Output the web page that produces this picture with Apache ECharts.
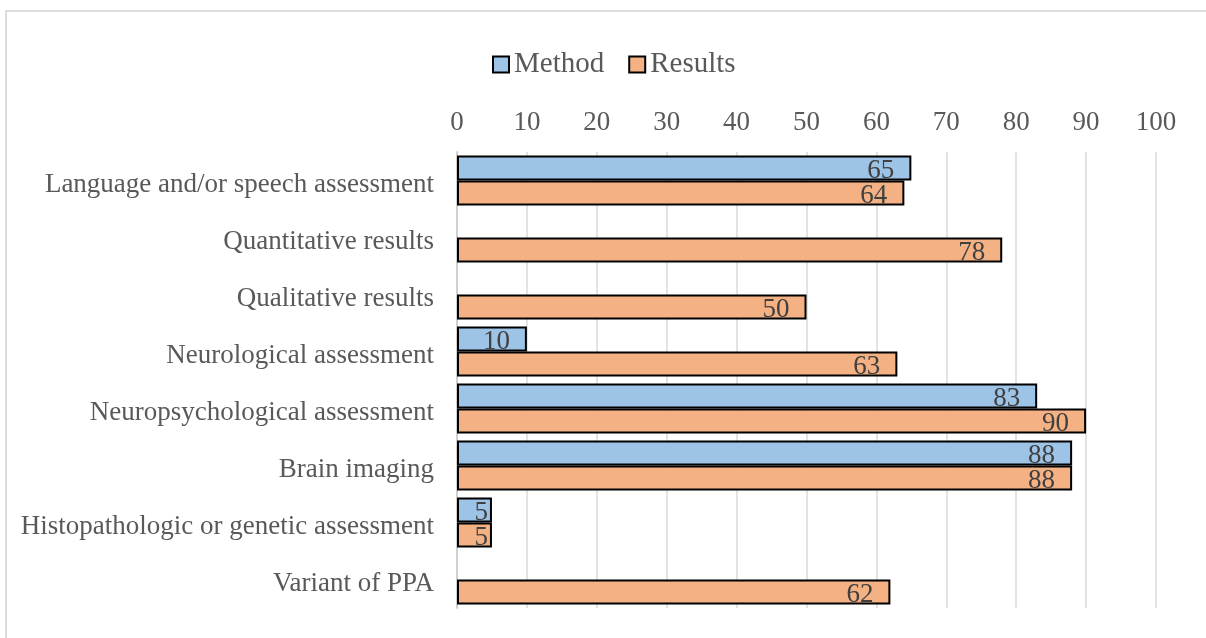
<!DOCTYPE html>
<html>
<head>
<meta charset="utf-8">
<script src="https://cdn.jsdelivr.net/npm/echarts@6/dist/echarts.min.js"></script>
<style>
	html, body { margin: 0; padding: 0; background: #fff; }
	#frame { position: absolute; left: 5px; top: 10px; width: 1220px; height: 650px; border: 2px solid #dcdcdc; box-sizing: border-box; }
	#main { position: absolute; left: 0; top: 0; width: 1206px; height: 638px; }
</style>
</head>
<body>
<div id="frame"></div>
<div id="main"></div>
<script>
var categories = [
	'Language and/or speech assessment',
	'Quantitative results',
	'Qualitative results',
	'Neurological assessment',
	'Neuropsychological assessment',
	'Brain imaging',
	'Histopathologic or genetic assessment',
	'Variant of PPA'
];
var methodValues = [65, null, null, 10, 83, 88, 5, null];
var resultsValues = [64, 78, 50, 63, 90, 88, 5, 62];
var seriesNames = ['Method', 'Results'];

var fontFamily = '"Liberation Serif", "Times New Roman", serif';

// label style shared by both series
function barLabel() {
	return {
		show : true,
		position : 'insideRight',
		distance : 17,
		offset : [0, 3],
		fontSize : 27,
		color : '#404040',
		fontFamily : fontFamily
	};
}

// very short bars keep their label close to the bar end
function barData(values) {
	return values.map(function(v) {
		if (v !== null && v < 8) {
			return { value : v, label : { distance : 4 } };
		}
		return v;
	});
}

var option = {
	animation : false,
	textStyle : {
		fontFamily : fontFamily
	},
	legend : {
		top : 45,
		left : 487,
		itemWidth : 16,
		itemHeight : 16,
		itemGap : 24,
		icon : 'rect',
		textStyle : {
			fontSize : 29,
			color : '#595959',
			padding : [3, 0, 0, 0],
			fontFamily : fontFamily
		},
		data : seriesNames
	},
	grid : {
		left : 457,
		right : 50,
		top : 152,
		bottom : 30
	},
	xAxis : {
		type : 'value',
		position : 'top',
		min : 0,
		max : 100,
		interval : 10,
		axisLine : { show : false },
		axisTick : { show : false },
		axisLabel : {
			fontSize : 27,
			color : '#595959',
			margin : 16,
			fontFamily : fontFamily
		},
		splitLine : {
			lineStyle : {
				color : '#e3e3e3',
				width : 2
			}
		}
	},
	yAxis : {
		type : 'category',
		inverse : true,
		data : categories,
		axisLine : {
			lineStyle : {
				color : '#d0d0d0',
				width : 2
			}
		},
		axisTick : { show : false },
		axisLabel : {
			margin : 23,
			formatter : function(value) {
				return '{c|' + value + '}';
			},
			rich : {
				c : {
					fontSize : 27,
					color : '#595959',
					padding : [9, 0, 0, 0],
					fontFamily : fontFamily
				}
			}
		}
	},
	series : [ {
		name : seriesNames[0],
		type : 'bar',
		barWidth : 25,
		barGap : '0%',
		data : barData(methodValues),
		itemStyle : {
			color : '#9DC3E6',
			borderColor : '#000',
			borderWidth : 2
		},
		label : barLabel()
	}, {
		name : seriesNames[1],
		type : 'bar',
		barWidth : 25,
		data : barData(resultsValues),
		itemStyle : {
			color : '#F4B183',
			borderColor : '#000',
			borderWidth : 2
		},
		label : barLabel()
	} ]
};

var myChart = echarts.init(document.getElementById('main'));
myChart.setOption(option);
</script>
</body>
</html>
